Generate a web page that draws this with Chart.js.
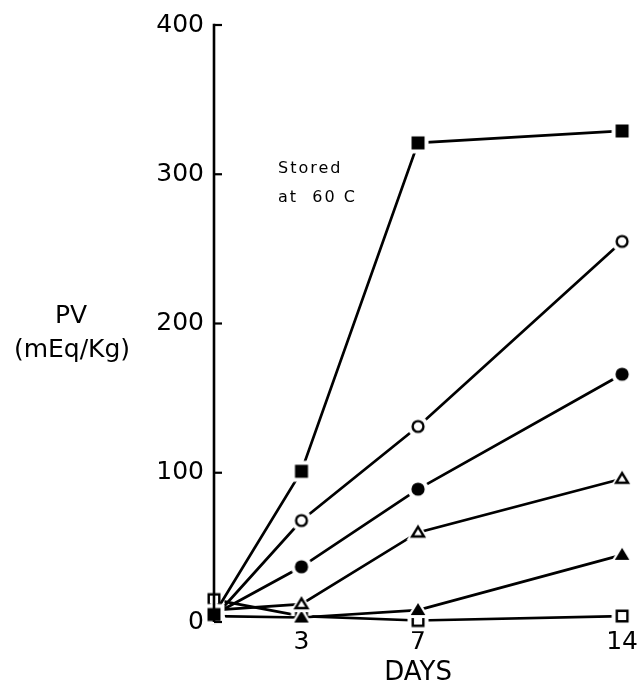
<!DOCTYPE html>
<html>
<head>
<meta charset="utf-8">
<script src="https://cdn.jsdelivr.net/npm/chart.js@4"></script>
<style>
  html, body { margin: 0; padding: 0; background: #fff; }
  #wrap { width: 643px; height: 689px; }
</style>
</head>
<body>
<div id="wrap"><canvas id="pvChart" width="643" height="689"></canvas></div>
<script>
// Datos (PV en mEq/Kg, almacenado a 60 C)
const days = [0, 3, 7, 14];
const xTicks = [3, 7, 14];
const yTicks = [0, 100, 200, 300, 400];
const filledSquare = [5, 101, 321, 329];
const openCircle = [3, 68, 131, 255];
const filledCircle = [5, 37, 89, 166];
const openTriangle = [8, 12, 60, 96];
const filledTriangle = [4, 3, 8, 45];
const openSquare = [15, 4, 1, 4];

const FONT = '"DejaVu Sans", "Noto Sans", sans-serif';

// Marcadores dibujados en un canvas pequeño, con un halo blanco
// para dejar el hueco entre la línea y el símbolo
function marker(shape, filled) {
    const size = 30;
    const c = document.createElement('canvas');
    c.width = size;
    c.height = size;
    const ctx = c.getContext('2d');
    const m = size / 2;
    const path = (r) => {
        ctx.beginPath();
        if (shape === 'square') {
            ctx.rect(m - r, m - r, 2 * r, 2 * r);
        } else if (shape === 'circle') {
            ctx.arc(m, m, r, 0, Math.PI * 2);
        } else {
            ctx.moveTo(m, m - r * 1.05);
            ctx.lineTo(m + r * 1.1, m + r * 0.75);
            ctx.lineTo(m - r * 1.1, m + r * 0.75);
            ctx.closePath();
        }
    };
    const r = shape === 'square' ? 6.5 : 6.6;
    path(r + 4);
    ctx.fillStyle = '#fff';
    ctx.fill();
    if (filled) {
        path(r);
        ctx.fillStyle = '#000';
        ctx.fill();
    } else {
        path(r - 1.2);
        ctx.fillStyle = '#fff';
        ctx.fill();
        ctx.lineWidth = 2.4;
        ctx.strokeStyle = '#000';
        ctx.stroke();
    }
    return c;
}

const series = [
    { values: filledSquare, style: marker('square', true) },
    { values: openCircle, style: marker('circle', false) },
    { values: filledCircle, style: marker('circle', true) },
    { values: openTriangle, style: marker('triangle', false) },
    { values: filledTriangle, style: marker('triangle', true) },
    { values: openSquare, style: marker('square', false) }
];

// Eje Y, marcas hacia dentro y textos sueltos
const decor = {
    id: 'decor',
    afterDraw(chart) {
        const ctx = chart.ctx;
        const y = chart.scales.y;
        const left = chart.chartArea.left;
        ctx.save();
        ctx.strokeStyle = '#000';
        ctx.lineWidth = 2.6;
        ctx.beginPath();
        ctx.moveTo(left, y.getPixelForValue(400) - 1.3);
        ctx.lineTo(left, y.getPixelForValue(0));
        ctx.stroke();
        ctx.lineWidth = 2.2;
        yTicks.forEach(v => {
            const py = y.getPixelForValue(v);
            ctx.beginPath();
            ctx.moveTo(left, py);
            ctx.lineTo(left + 8, py);
            ctx.stroke();
        });

        ctx.fillStyle = '#000';
        ctx.textBaseline = 'middle';
        ctx.textAlign = 'center';
        ctx.font = '25px ' + FONT;
        ctx.fillText('PV', 71, 316);
        ctx.fillText('(mEq/Kg)', 72, 350);

        ctx.textAlign = 'left';
        ctx.font = '16px ' + FONT;
        ctx.letterSpacing = '2px';
        ctx.fillText('Stored', 278, 169);
        ctx.fillText('at  60 C', 278, 198);
        ctx.restore();
    }
};

new Chart(document.getElementById('pvChart'), {
    type: 'line',
    data: {
        datasets: series.map(s => ({
            data: days.map((d, i) => ({ x: d, y: s.values[i] })),
            borderColor: '#000',
            borderWidth: 2.7,
            pointStyle: s.style,
            pointRadius: 8,
            clip: false,
            tension: 0
        }))
    },
    options: {
        responsive: false,
        animation: false,
        layout: { padding: { top: 23, right: 13, left: 0, bottom: 0 } },
        plugins: { legend: { display: false }, tooltip: { enabled: false } },
        scales: {
            x: {
                type: 'linear',
                min: 0,
                max: 14,
                grid: { display: false, drawTicks: false },
                border: { display: false },
                afterBuildTicks: s => { s.ticks = xTicks.map(v => ({ value: v })); },
                afterFit: s => { s.height = 67; },
                ticks: { color: '#000', font: { family: FONT, size: 25 }, padding: 5, maxRotation: 0, autoSkip: false },
                title: { display: true, text: 'DAYS', color: '#000', font: { family: FONT, size: 26 }, padding: 0 }
            },
            y: {
                min: 0,
                max: 400,
                grid: { display: false, drawTicks: false },
                border: { display: false },
                afterBuildTicks: s => { s.ticks = yTicks.map(v => ({ value: v })); },
                afterFit: s => { s.width = 214; },
                ticks: { color: '#000', font: { family: FONT, size: 25 }, padding: 10 }
            }
        }
    },
    plugins: [decor]
});
</script>
</body>
</html>
